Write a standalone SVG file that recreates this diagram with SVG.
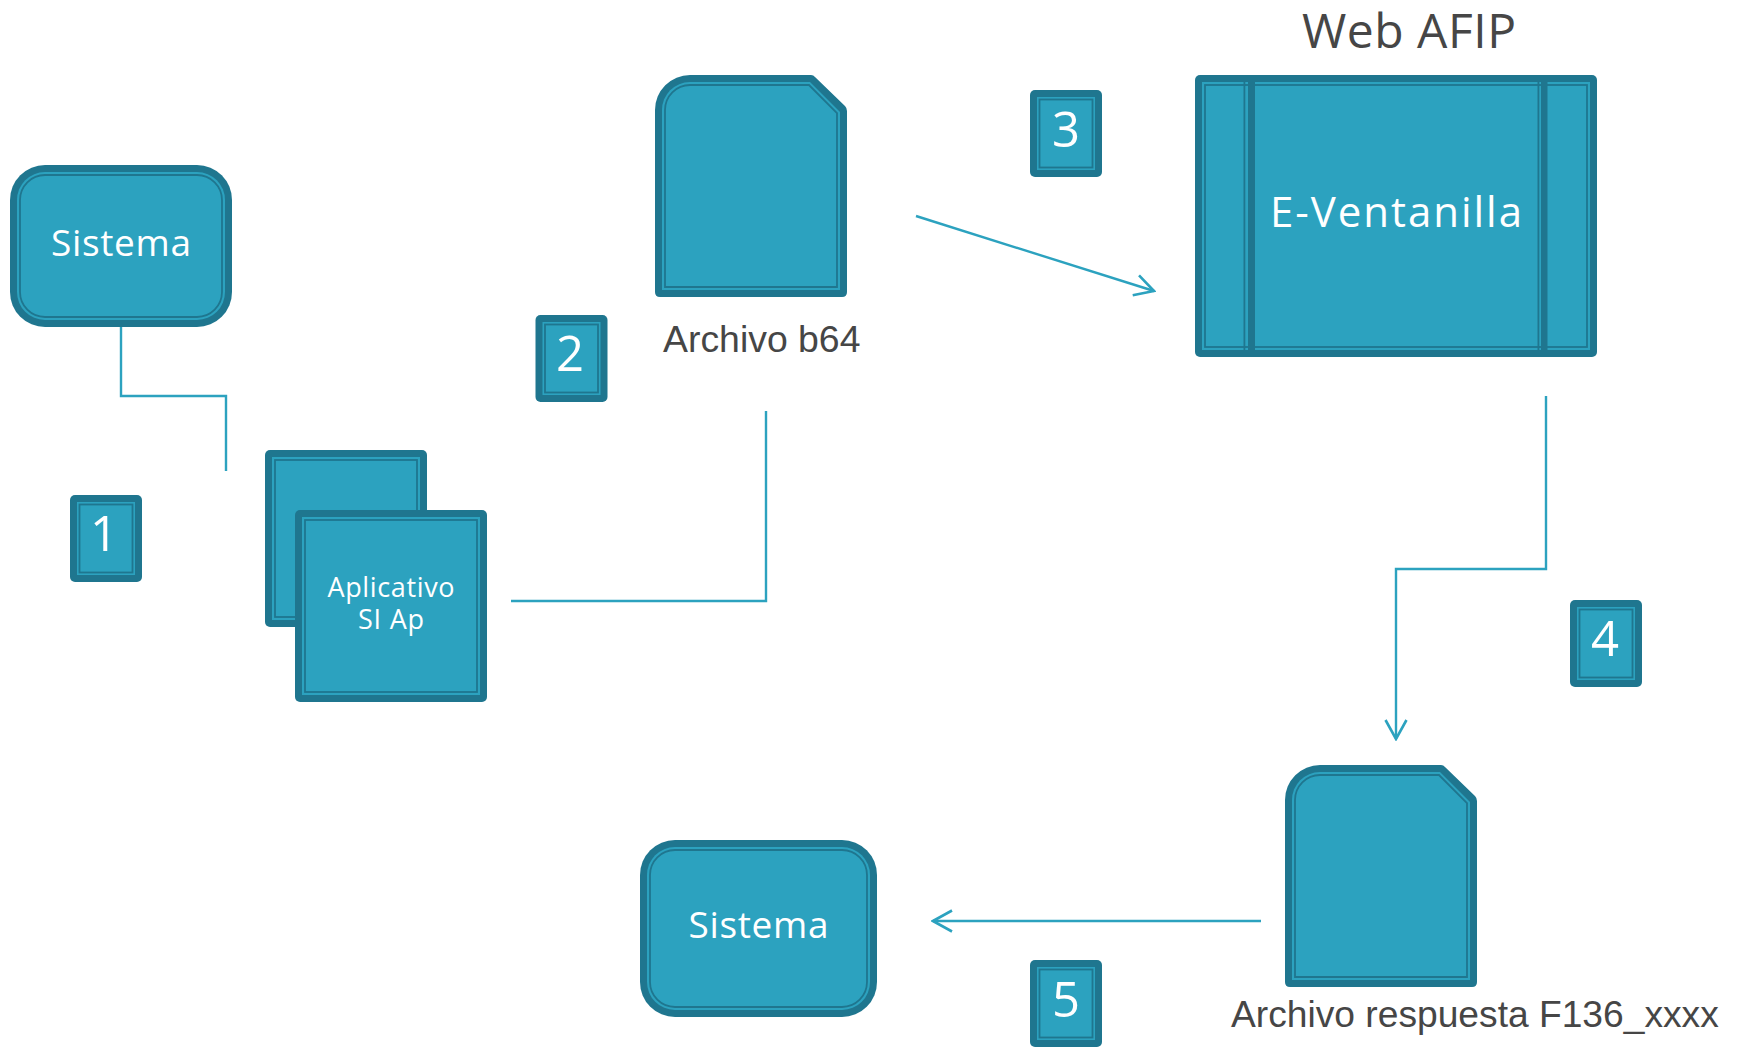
<svg xmlns="http://www.w3.org/2000/svg" xmlns:xlink="http://www.w3.org/1999/xlink" width="1739" height="1047" viewBox="0 0 1739 1047">
<style>
.o{fill:#1f768f}
.m{fill:#2ca2bf}
.i{fill:#2ca2bf;stroke:#1f768f;stroke-width:1.8}
.d{fill:#1f768f}
.c{fill:none;stroke:#2ca2bf;stroke-width:2.4}
.w{font-family:"Open Sans","Noto Sans",sans-serif;fill:#fff;text-anchor:middle}
.g{font-family:"Liberation Sans",Arial,sans-serif;fill:#464646}
.n{font-size:49px}
</style>
<defs>
<g id="badge">
<rect class="o" width="72" height="87" rx="5"/>
<rect class="m" x="7" y="7" width="58" height="73"/>
<rect class="i" x="9.5" y="9.5" width="53" height="68"/>
</g>
<g id="doc">
<path class="o" d="M655 110A35 35 0 0 1 690 75H811Q813.5 75 815 77L845 106Q847 108 847 111V292Q847 297 842 297H660Q655 297 655 292Z"/>
<path class="m" d="M662 110A28 28 0 0 1 690 82H810L840 112V290H662Z"/>
<path class="i" d="M665 110A25 25 0 0 1 690 85H809L837 113V287H665Z"/>
</g>
<marker id="a" viewBox="0 0 24 24" refX="22" refY="12" markerWidth="24" markerHeight="24" markerUnits="userSpaceOnUse" orient="auto">
<path d="M3 1.500L22 12L3 22.500" fill="none" stroke="#2ca2bf" stroke-width="2.6"/>
</marker>
</defs>
<rect width="1739" height="1047" fill="#fff"/>
<g id="connectors">
<path class="c" d="M121 322V396H226V471"/>
<path class="c" d="M511 601H766V411"/>
<path class="c" d="M916 216L1154 291" marker-end="url(#a)"/>
<path class="c" d="M1546 396V569H1396V739" marker-end="url(#a)"/>
<path class="c" d="M1261 921H933" marker-end="url(#a)"/>
</g>
<g id="sistema1">
<rect class="o" x="10" y="165" width="222" height="162" rx="35"/>
<rect class="m" x="17" y="172" width="208" height="148" rx="28"/>
<rect class="i" x="20" y="175" width="202" height="142" rx="25"/>
<text class="w" x="121" y="256" font-size="37" textLength="140">Sistema</text>
</g>
<g id="badge1"><use href="#badge" x="70" y="495"/><text class="w n" x="104" y="551">1</text></g>
<g id="aplicativo">
<rect class="o" x="265" y="450" width="162" height="177" rx="5"/>
<rect class="m" x="272" y="457" width="148" height="163"/>
<rect class="i" x="275" y="460" width="142" height="157"/>
<rect class="o" x="295" y="510" width="192" height="192" rx="5"/>
<rect class="m" x="302" y="517" width="178" height="178"/>
<rect class="i" x="305" y="520" width="172" height="172"/>
<text class="w" font-size="27"><tspan x="391" y="597" textLength="127">Aplicativo</tspan><tspan x="391" y="629" textLength="66">SI Ap</tspan></text>
</g>
<g id="badge2"><use href="#badge" x="535.500" y="315"/><text class="w n" x="570" y="371">2</text></g>
<g id="archivo-b64">
<use href="#doc"/>
<text class="g" x="663" y="352" font-size="37.400">Archivo b64</text>
</g>
<g id="badge3"><use href="#badge" x="1030" y="90"/><text class="w n" x="1066" y="147">3</text></g>
<g id="web-afip">
<text x="1409" y="48" font-family="'Open Sans','Noto Sans',sans-serif" font-size="48" fill="#464646" text-anchor="middle" textLength="214">Web AFIP</text>
</g>
<g id="e-ventanilla">
<rect class="o" x="1195" y="75" width="402" height="282" rx="5"/>
<rect class="m" x="1202" y="82" width="388" height="268"/>
<rect class="i" x="1205" y="85" width="382" height="262"/>
<rect class="d" x="1243.500" y="82" width="1.800" height="268"/>
<rect class="d" x="1248" y="82" width="7" height="268"/>
<rect class="d" x="1537.500" y="82" width="1.800" height="268"/>
<rect class="d" x="1541" y="82" width="6.500" height="268"/>
<text class="w" x="1396" y="227" font-size="42" textLength="252">E-Ventanilla</text>
</g>
<g id="badge4"><use href="#badge" x="1570" y="600"/><text class="w n" x="1605" y="656">4</text></g>
<g id="archivo-respuesta">
<use href="#doc" x="630" y="690"/>
<text class="g" x="1231" y="1027" font-size="37.200">Archivo respuesta F136_xxxx</text>
</g>
<g id="sistema2">
<rect class="o" x="640" y="840" width="237" height="177" rx="35"/>
<rect class="m" x="647" y="847" width="223" height="163" rx="28"/>
<rect class="i" x="650" y="850" width="217" height="157" rx="25"/>
<text class="w" x="758.500" y="938" font-size="37" textLength="140">Sistema</text>
</g>
<g id="badge5"><use href="#badge" x="1030" y="960"/><text class="w n" x="1066" y="1017">5</text></g>
</svg>
